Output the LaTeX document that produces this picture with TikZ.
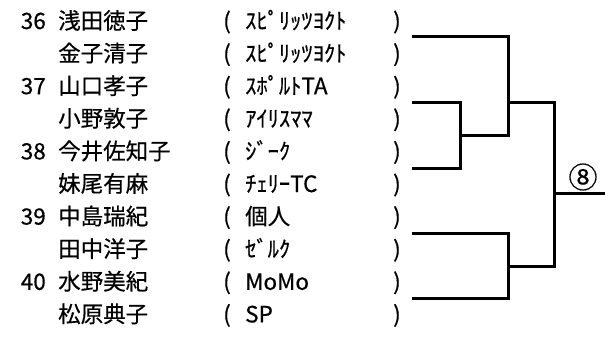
\documentclass[tikz,border=0pt]{standalone}
\usepackage{fontspec}
\setmainfont[FakeBold=0.5,AutoFakeBold=0.5]{Noto Sans CJK JP}
\usetikzlibrary{positioning}

\begin{document}
\begin{tikzpicture}[x=1pt,y=-1pt,
  entry/.style={inner sep=0pt,font=\fontsize{22.5}{22.5}\selectfont\bfseries},
  bracket/.style={line width=3pt}]
\useasboundingbox (0,0) rectangle (605,337);

% players and clubs
\foreach \i/\player/\club in {1/浅田徳子/ｽﾋﾟﾘｯﾂﾖｸﾄ,2/金子清子/ｽﾋﾟﾘｯﾂﾖｸﾄ,
    3/山口孝子/ｽﾎﾟﾙﾄTA,4/小野敦子/ｱｲﾘｽﾏﾏ,5/今井佐知子/ｼﾞｰｸ,
    6/妹尾有麻/ﾁｪﾘｰTC,7/中島瑞紀/個人,8/田中洋子/ｾﾞﾙｸ,
    9/水野美紀/MoMo,10/松原典子/SP}{
  \pgfmathsetmacro\ry{29+(\i-1)*32.6}
  \node[entry,anchor=base west] (name\i) at (58,\ry) {\player};
  \node[entry,anchor=base] (lp\i) at (227,\ry) {(};
  \node[entry,anchor=base west] (club\i) at (245,\ry) {\club};
  \node[entry,anchor=base] (rp\i) at (397,\ry) {)};
}
% draw numbers
\foreach \i/\num in {1/36,3/37,5/38,7/39,9/40}{
  \pgfmathsetmacro\ry{29+(\i-1)*32.6}
  \node[entry,anchor=base east] (num\i) at (46,\ry) {\num};
}

% bracket
\coordinate (a) at (412,37);
\coordinate (b) at (412,102);
\coordinate (c) at (412,168);
\coordinate (d) at (412,233);
\coordinate (e) at (412,298);
\coordinate (bc) at (460,135);
\coordinate (abc) at (508,102);
\coordinate (de) at (508,266);
\coordinate (fin) at (554,193);
\coordinate (out) at (605,193);
\draw[bracket] (b) -| (bc) |- (c);
\draw[bracket] (a) -| (abc) |- (bc);
\draw[bracket] (d) -| (de) |- (e);
\draw[bracket] (abc) -| (fin) |- (de);
\draw[bracket] (fin) -- (out);
\node[inner sep=0pt,font=\fontsize{29}{29}\selectfont\bfseries] (seed) at (583,177) {⑧};
\end{tikzpicture}
\end{document}
